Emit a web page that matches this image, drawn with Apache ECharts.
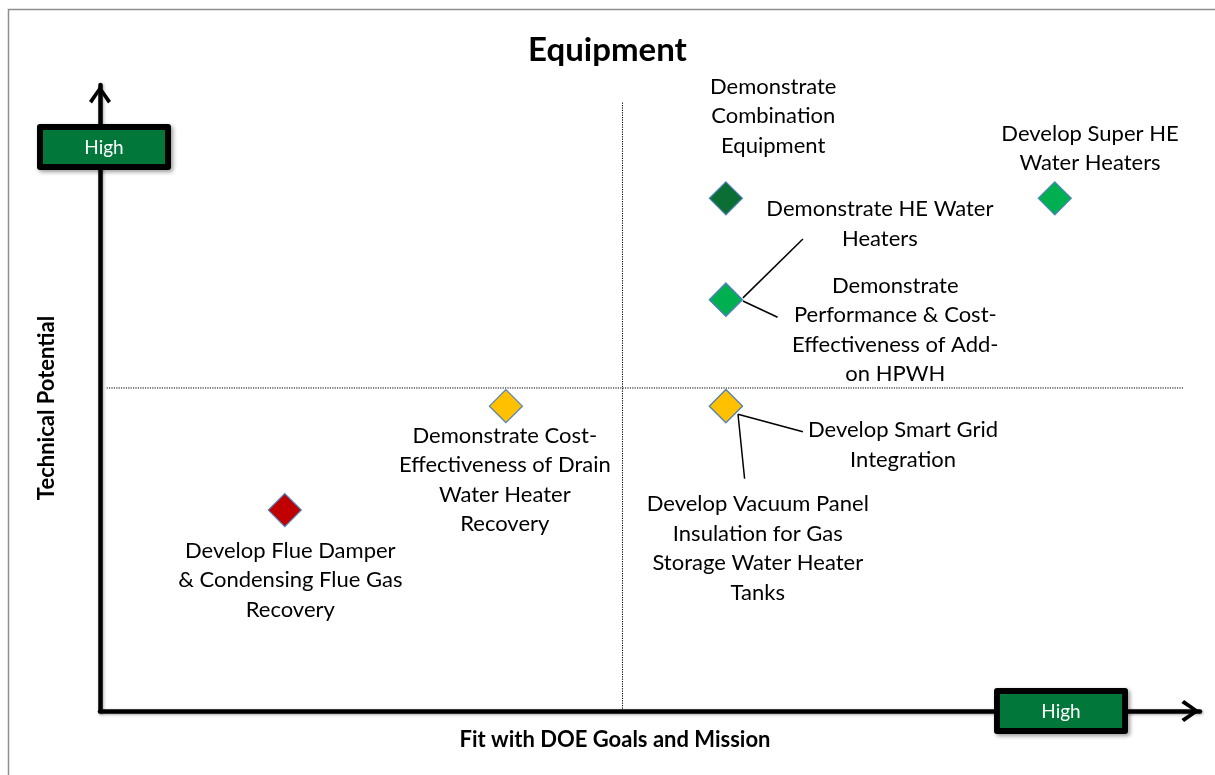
<!DOCTYPE html>
<html>
<head>
<meta charset="utf-8">
<script src="https://cdn.jsdelivr.net/npm/echarts@6/dist/echarts.min.js"></script>
<style>
  html, body { margin: 0; padding: 0; background: #fff; }
  #chart { width: 1215px; height: 775px; }
</style>
</head>
<body>
<div id="chart"></div>
<script>
// Projects (two pairs share a marker)
const ideaLabels = [
  'Demonstrate\nCombination\nEquipment',
  'Develop Super HE\nWater Heaters',
  'Demonstrate HE Water\nHeaters',
  'Demonstrate\nPerformance & Cost-\nEffectiveness of Add-\non HPWH',
  'Develop Smart Grid\nIntegration',
  'Develop Vacuum Panel\nInsulation for Gas\nStorage Water Heater\nTanks',
  'Demonstrate Cost-\nEffectiveness of Drain\nWater Heater\nRecovery',
  'Develop Flue Damper\n& Condensing Flue Gas\nRecovery'
];
const fitScore = [56.9, 86.8, 56.9, 56.9, 56.9, 56.9, 36.9, 16.8];
const potentialScore = [81.9, 81.9, 65.7, 65.7, 48.7, 48.7, 48.7, 32.1];
const rating = ['top', 'strong', 'strong', 'strong', 'moderate', 'moderate', 'moderate', 'low'];

// quadrant split
const midFit = 47.5;
const midPotential = 51.6;

const ratingColor = {
  top: '#0B6E34',
  strong: '#00B050',
  moderate: '#FFC000',
  low: '#C00000'
};

// label anchors (layout, in axis units)
const labelAt = [
  [61.2, 95.0], [90.0, 89.9], [70.9, 77.8], [72.3, 60.9],
  [73.0, 42.5], [59.8, 26.0], [36.8, 36.9], [17.3, 20.9]
];
// leader lines (layout, in axis units)
const leaders = [
  [[58.45, 66.0], [63.9, 75.4]],
  [[58.45, 65.5], [61.6, 62.9]],
  [[58.0, 47.4], [63.9, 44.6]],
  [[58.0, 47.4], [58.6, 37.1]]
];

const FONT = 'Lato';
const chevron = 'path://M11,0 L22,15.5 L19,18.2 L11,6 L3,18.2 L0,15.5 Z';

const chart = echarts.init(document.getElementById('chart'));

const axisLineStyle = {
  color: '#000',
  width: 4.5,
  shadowColor: 'rgba(0,0,0,0.35)',
  shadowBlur: 3,
  shadowOffsetX: 1,
  shadowOffsetY: 1
};

function highBox(cx, cy) {
  return {
    type: 'group',
    x: cx,
    y: cy,
    z: 100,
    children: [
      {
        type: 'rect',
        z: 100,
        shape: { x: -67, y: -23, width: 134, height: 46, r: 3 },
        style: { fill: '#000', shadowColor: 'rgba(0,0,0,0.4)', shadowBlur: 4, shadowOffsetX: 2, shadowOffsetY: 2 }
      },
      {
        type: 'rect',
        z: 101,
        shape: { x: -61, y: -17, width: 122, height: 34 },
        style: { fill: '#02773A' }
      },
      {
        type: 'text',
        z: 102,
        style: {
          text: 'High', x: 0, y: 1, align: 'center', verticalAlign: 'middle',
          fill: '#fff', font: '19px ' + FONT
        }
      }
    ]
  };
}

const option = {
  backgroundColor: '#fff',
  animation: false,
  title: {
    text: 'Equipment',
    left: 'center',
    top: 29,
    textStyle: { fontFamily: FONT, fontWeight: 'bold', fontSize: 33, color: '#000' }
  },
  grid: { left: 100, right: 15, top: 85, bottom: 64 },
  xAxis: {
    type: 'value',
    min: 0,
    max: 100,
    name: 'Fit with DOE Goals and Mission',
    nameLocation: 'middle',
    nameGap: 18,
    nameTextStyle: { fontFamily: FONT, fontWeight: 'bold', fontSize: 22, color: '#000', padding: [0, 70, 0, 0] },
    axisLine: { show: true, lineStyle: axisLineStyle, symbol: ['none', chevron], symbolSize: [22, 19], symbolOffset: [0, -9.5] },
    axisTick: { show: false },
    axisLabel: { show: false },
    splitLine: { show: false }
  },
  yAxis: {
    type: 'value',
    min: 0,
    max: 100,
    name: 'Technical Potential',
    nameLocation: 'middle',
    nameRotate: 90,
    nameGap: 42,
    nameTextStyle: { fontFamily: FONT, fontWeight: 'bold', fontSize: 22, color: '#000', padding: [0, 20, 0, 0] },
    axisLine: { show: true, lineStyle: axisLineStyle, symbol: ['none', chevron], symbolSize: [22, 19], symbolOffset: [0, -9.5] },
    axisTick: { show: false },
    axisLabel: { show: false },
    splitLine: { show: false }
  },
  graphic: [
    {
      type: 'rect',
      shape: { x: 8.5, y: 9.5, width: 1400, height: 900 },
      style: { fill: 'none', stroke: '#8E8E8E', lineWidth: 1.5 },
      z: -1
    },
    highBox(104, 147),
    highBox(1061, 711)
  ],
  series: [
    {
      name: 'quadrant-v',
      type: 'line',
      data: [[midFit, 0], [midFit, 97.3]],
      symbol: 'none',
      lineStyle: { color: '#000', width: 1, type: [1.2, 1.2] },
      silent: true,
      z: 1
    },
    {
      name: 'quadrant-h',
      type: 'line',
      data: [[0.6, midPotential], [98.5, midPotential]],
      symbol: 'none',
      lineStyle: { color: '#000', width: 1, type: [1.2, 1.2] },
      silent: true,
      z: 1
    },
    {
      name: 'leaders',
      type: 'lines',
      coordinateSystem: 'cartesian2d',
      data: leaders.map(c => ({ coords: c })),
      lineStyle: { color: '#000', width: 1.5, opacity: 1 },
      silent: true,
      z: 2
    },
    {
      name: 'projects',
      type: 'scatter',
      symbol: 'diamond',
      symbolSize: [33, 33],
      data: fitScore.map((x, i) => ({
        value: [x, potentialScore[i]],
        itemStyle: { color: ratingColor[rating[i]] }
      })),
      itemStyle: { borderColor: '#4F81BD', borderWidth: 1.2, opacity: 1 },
      z: 5
    },
    {
      name: 'labels',
      type: 'scatter',
      symbolSize: 1,
      itemStyle: { color: 'rgba(0,0,0,0)', opacity: 1 },
      data: ideaLabels.map((t, i) => ({ name: t, value: labelAt[i] })),
      label: {
        show: true,
        position: 'inside',
        formatter: p => p.name,
        fontFamily: FONT,
        fontSize: 22,
        lineHeight: 29.5,
        align: 'center',
        verticalAlign: 'middle',
        color: '#000',
        opacity: 1
      },
      z: 6
    }
  ]
};

chart.setOption(option);
</script>
</body>
</html>
